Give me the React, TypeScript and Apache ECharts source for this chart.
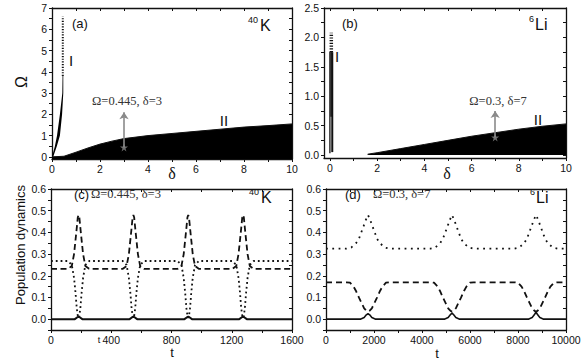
import React, { useEffect, useRef } from "react";
import * as echarts from "echarts";

// ---------- Panel (a): 40K phase diagram ----------
const aIIDelta = [0, 0.5, 1, 1.5, 2, 2.5, 3, 4, 5, 6, 7, 8, 9, 10];
const aIIOmega = [0, 0.03, 0.22, 0.42, 0.6, 0.74, 0.86, 1.0, 1.1, 1.2, 1.3, 1.4, 1.47, 1.55];
const aIBandDelta = [0.0, 0.12, 0.21, 0.33, 0.43, 0.44, 0.47, 0.47, 0.42, 0.33, 0.2, 0.05];
const aIBandOmega = [0, 0.5, 1, 2, 3, 3.8, 3.8, 3, 2, 1, 0.5, 0];
const aIDotDelta = [0.45, 0.45];
const aIDotOmega = [3.8, 6.6];
const aMark = [3, 0.445];
const aArrowTop = 2.1;

// ---------- Panel (b): 6Li phase diagram ----------
const bIIDelta = [1.6, 2, 3, 4, 5, 6, 7, 8, 9, 10];
const bIIOmega = [0.015, 0.04, 0.11, 0.18, 0.25, 0.32, 0.38, 0.44, 0.49, 0.53];
const bIThinDelta = 0.0;
const bIThinOmega = [0.03, 1.75];
const bIThickDelta = 0.1;
const bIThickOmega = [0.05, 1.75];
const bIMidDelta = 0.05;
const bIMidOmega = [0.65, 1.75];
const bIDotDelta = 0.06;
const bIDotOmega = [1.75, 2.08];
const bMark = [7, 0.3];
const bArrowTop = 0.75;

// ---------- Panel (c): 40K population dynamics ----------
const cDashed: number[][] = [
  [0, 0.232], [113, 0.232], [138, 0.245], [153, 0.3], [168, 0.4], [178, 0.47], [183, 0.48], [188, 0.47], [198, 0.4], [213, 0.3], [228, 0.245], [253, 0.232],
  [477, 0.232], [502, 0.245], [517, 0.3], [532, 0.4], [542, 0.47], [547, 0.48], [552, 0.47], [562, 0.4], [577, 0.3], [592, 0.245], [617, 0.232],
  [841, 0.232], [866, 0.245], [881, 0.3], [896, 0.4], [906, 0.47], [911, 0.48], [916, 0.47], [926, 0.4], [941, 0.3], [956, 0.245], [981, 0.232],
  [1205, 0.232], [1230, 0.245], [1245, 0.3], [1260, 0.4], [1270, 0.47], [1275, 0.48], [1280, 0.47], [1290, 0.4], [1305, 0.3], [1320, 0.245], [1345, 0.232],
  [1600, 0.232],
];
const cDotted: number[][] = [
  [0, 0.268], [113, 0.268], [138, 0.25], [153, 0.19], [163, 0.12], [171, 0.05], [178, 0.015], [183, 0.005], [188, 0.015], [195, 0.05], [203, 0.12], [213, 0.19], [228, 0.25], [253, 0.268],
  [477, 0.268], [502, 0.25], [517, 0.19], [527, 0.12], [535, 0.05], [542, 0.015], [547, 0.005], [552, 0.015], [559, 0.05], [567, 0.12], [577, 0.19], [592, 0.25], [617, 0.268],
  [841, 0.268], [866, 0.25], [881, 0.19], [891, 0.12], [899, 0.05], [906, 0.015], [911, 0.005], [916, 0.015], [923, 0.05], [931, 0.12], [941, 0.19], [956, 0.25], [981, 0.268],
  [1205, 0.268], [1230, 0.25], [1245, 0.19], [1255, 0.12], [1263, 0.05], [1270, 0.015], [1275, 0.005], [1280, 0.015], [1287, 0.05], [1295, 0.12], [1305, 0.19], [1320, 0.25], [1345, 0.268],
  [1600, 0.268],
];
const cSolid: number[][] = [
  [0, 0], [158, 0], [173, 0.008], [183, 0.011], [193, 0.008], [208, 0],
  [522, 0], [537, 0.008], [547, 0.011], [557, 0.008], [572, 0],
  [886, 0], [901, 0.008], [911, 0.011], [921, 0.008], [936, 0],
  [1250, 0], [1265, 0.008], [1275, 0.011], [1285, 0.008], [1300, 0],
  [1600, 0],
];

// ---------- Panel (d): 6Li population dynamics ----------
const dDotted: number[][] = [
  [0, 0.325],
  [850, 0.325], [1050, 0.33], [1250, 0.35], [1370, 0.37], [1470, 0.4], [1570, 0.43], [1650, 0.455], [1710, 0.47], [1750, 0.48], [1790, 0.47], [1850, 0.455], [1930, 0.43], [2030, 0.4], [2130, 0.37], [2250, 0.35], [2450, 0.33], [2650, 0.325],
  [4350, 0.325], [4550, 0.33], [4750, 0.35], [4870, 0.37], [4970, 0.4], [5070, 0.43], [5150, 0.455], [5210, 0.47], [5250, 0.48], [5290, 0.47], [5350, 0.455], [5430, 0.43], [5530, 0.4], [5630, 0.37], [5750, 0.35], [5950, 0.33], [6150, 0.325],
  [7850, 0.325], [8050, 0.33], [8250, 0.35], [8370, 0.37], [8470, 0.4], [8570, 0.43], [8650, 0.455], [8710, 0.47], [8750, 0.48], [8790, 0.47], [8850, 0.455], [8930, 0.43], [9030, 0.4], [9130, 0.37], [9250, 0.35], [9450, 0.33], [9650, 0.325],
  [10000, 0.325],
];
const dDashed: number[][] = [
  [0, 0.17],
  [850, 0.17], [1000, 0.168], [1150, 0.15], [1250, 0.13], [1370, 0.1], [1480, 0.075], [1590, 0.05], [1690, 0.038], [1750, 0.035], [1810, 0.038], [1910, 0.05], [2020, 0.075], [2130, 0.1], [2250, 0.13], [2350, 0.15], [2500, 0.168], [2650, 0.17],
  [4350, 0.17], [4500, 0.168], [4650, 0.15], [4750, 0.13], [4870, 0.1], [4980, 0.075], [5090, 0.05], [5190, 0.038], [5250, 0.035], [5310, 0.038], [5410, 0.05], [5520, 0.075], [5630, 0.1], [5750, 0.13], [5850, 0.15], [6000, 0.168], [6150, 0.17],
  [7850, 0.17], [8000, 0.168], [8150, 0.15], [8250, 0.13], [8370, 0.1], [8480, 0.075], [8590, 0.05], [8690, 0.038], [8750, 0.035], [8810, 0.038], [8910, 0.05], [9020, 0.075], [9130, 0.1], [9250, 0.13], [9350, 0.15], [9500, 0.168], [9650, 0.17],
  [10000, 0.17],
];
const dSolid: number[][] = [
  [0, 0],
  [1430, 0], [1590, 0.008], [1680, 0.02], [1750, 0.025], [1820, 0.02], [1910, 0.008], [2070, 0],
  [4930, 0], [5090, 0.008], [5180, 0.02], [5250, 0.028], [5320, 0.02], [5410, 0.008], [5570, 0],
  [8430, 0], [8590, 0.008], [8680, 0.02], [8750, 0.033], [8820, 0.02], [8910, 0.008], [9070, 0],
  [10000, 0],
];

// ---------- Tick labels / tick positions ----------
const aXLabels = [0, 2, 4, 6, 8, 10];
const aXTicks = [0, 1, 2, 3, 4, 5, 6, 7, 8, 9, 10];
const aYLabels = [0, 1, 2, 3, 4, 5, 6, 7];
const aYTicks = [0, 0.5, 1, 1.5, 2, 2.5, 3, 3.5, 4, 4.5, 5, 5.5, 6, 6.5, 7];
const bXLabels = [0, 2, 4, 6, 8, 10];
const bXTicks = [0, 1, 2, 3, 4, 5, 6, 7, 8, 9, 10];
const bYLabels = [0, 0.5, 1, 1.5, 2, 2.5];
const bYTicks = [0, 0.25, 0.5, 0.75, 1, 1.25, 1.5, 1.75, 2, 2.25, 2.5];
const cXLabels = [0, 400, 800, 1200, 1600];
const cXTicks = [0, 200, 400, 600, 800, 1000, 1200, 1400, 1600];
const pYLabels = [0, 0.1, 0.2, 0.3, 0.4, 0.5, 0.6];
const pYTicks = [-0.05, 0, 0.05, 0.1, 0.15, 0.2, 0.25, 0.3, 0.35, 0.4, 0.45, 0.5, 0.55, 0.6];
const dXLabels = [0, 2000, 4000, 6000, 8000, 10000];
const dXTicks = [0, 1000, 2000, 3000, 4000, 5000, 6000, 7000, 8000, 9000, 10000];

const SANS = "Liberation Sans, Arial, sans-serif";
const SERIF = "Liberation Serif, Times New Roman, serif";
const INK = "#111";
const GRAY = "#8a8a8a";
const STAR = "path://M50,0 L61,35 L98,35 L68,57 L79,91 L50,70 L21,91 L32,57 L2,35 L39,35 Z";

function makeAxes(
  g: number,
  xmin: number, xmax: number, xLabels: number[], xTicks: number[], xFmt: (v: number) => string,
  ymin: number, ymax: number, yLabels: number[], yTicks: number[], yFmt: (v: number) => string
) {
  const line = { show: true, onZero: false, lineStyle: { color: INK, width: 1.3 } };
  const lab = { fontSize: 10.5, color: INK, fontFamily: SANS };
  const xs = [
    {
      type: "value", gridIndex: g, min: xmin, max: xmax, position: "bottom",
      axisLine: line,
      axisTick: { show: true, inside: false, length: 3, customValues: xTicks, lineStyle: { color: INK, width: 1 } },
      axisLabel: { ...lab, margin: 4, customValues: xLabels, formatter: (v: number) => xFmt(v) },
      splitLine: { show: false },
    },
    {
      type: "value", gridIndex: g, min: xmin, max: xmax, position: "top",
      axisLine: line,
      axisTick: { show: true, inside: true, length: 3, customValues: xTicks, lineStyle: { color: INK, width: 1 } },
      axisLabel: { show: false, customValues: xTicks },
      splitLine: { show: false },
    },
  ];
  const ys = [
    {
      type: "value", gridIndex: g, min: ymin, max: ymax, position: "left",
      axisLine: line,
      axisTick: { show: true, inside: false, length: 3, customValues: yTicks, lineStyle: { color: INK, width: 1 } },
      axisLabel: { ...lab, margin: 5, customValues: yLabels, formatter: (v: number) => yFmt(v) },
      splitLine: { show: false },
    },
    {
      type: "value", gridIndex: g, min: ymin, max: ymax, position: "right",
      axisLine: line,
      axisTick: { show: true, inside: true, length: 3, customValues: yTicks, lineStyle: { color: INK, width: 1 } },
      axisLabel: { show: false, customValues: yTicks },
      splitLine: { show: false },
    },
  ];
  return { xs, ys };
}

const zip = (a: number[], b: number[]) => a.map((v, i) => [v, b[i]]);
const vline = (x: number, ys: number[]) => ys.map((y) => [x, y]);

function lineSeries(g: number, data: number[][], style: any, extra: any = {}) {
  return {
    type: "line", xAxisIndex: 2 * g, yAxisIndex: 2 * g, data,
    showSymbol: false, symbol: "none", silent: true, smooth: false,
    lineStyle: { color: INK, width: 1.8, ...style },
    ...extra,
  };
}

function arrowSeries(g: number, mark: number[], top: number) {
  return [
    {
      type: "lines", coordinateSystem: "cartesian2d", xAxisIndex: 2 * g, yAxisIndex: 2 * g,
      data: [{ coords: [[mark[0], mark[1]], [mark[0], top]] }],
      symbol: ["none", "arrow"], symbolSize: 7, silent: true, z: 10, zlevel: 0,
      lineStyle: { color: GRAY, width: 1.6, opacity: 1 },
    },
    {
      type: "scatter", xAxisIndex: 2 * g, yAxisIndex: 2 * g, data: [mark],
      symbol: STAR, symbolSize: 8, silent: true, z: 11,
      itemStyle: { color: GRAY },
    },
  ];
}

function txt(x: number, y: number, text: string, size: number, opts: any = {}) {
  const { font = SANS, align = "left", rotation = 0, fill = INK } = opts;
  return {
    type: "text", x, y, rotation, silent: true,
    style: { text, fontSize: size, fontFamily: font, fill, align, verticalAlign: "middle" },
  };
}

export default function App() {
  const ref = useRef<HTMLDivElement>(null);
  useEffect(() => {
    if (!ref.current) return;
    const chart = echarts.init(ref.current, undefined, { renderer: "svg" });
    const f0 = (v: number) => String(v);
    const f1 = (v: number) => v.toFixed(1);
    const A = makeAxes(0, 0, 10, aXLabels, aXTicks, f0, -0.1, 7, aYLabels, aYTicks, f0);
    const B = makeAxes(1, -0.25, 10, bXLabels, bXTicks, f0, -0.05, 2.5, bYLabels, bYTicks, f1);
    const C = makeAxes(2, 0, 1600, cXLabels, cXTicks, f0, -0.05, 0.6, pYLabels, pYTicks, f1);
    const D = makeAxes(3, 0, 10000, dXLabels, dXTicks, f0, -0.05, 0.6, pYLabels, pYTicks, f1);

    const option: any = {
      animation: false,
      backgroundColor: "#fff",
      grid: [
        { left: 52, top: 8, width: 240, height: 151 },
        { left: 324, top: 8, width: 242, height: 150 },
        { left: 51, top: 189, width: 241, height: 141 },
        { left: 326, top: 189, width: 240, height: 141 },
      ],
      xAxis: [...A.xs, ...B.xs, ...C.xs, ...D.xs],
      yAxis: [...A.ys, ...B.ys, ...C.ys, ...D.ys],
      series: [
        // (a) region II
        lineSeries(0, zip(aIIDelta, aIIOmega), { width: 1 }, { z: 1, areaStyle: { color: "#000", opacity: 1, origin: "start" } }),
        // (a) region I band
        {
          type: "custom", xAxisIndex: 0, yAxisIndex: 0, data: [[0, 0]], silent: true, z: 1,
          renderItem: (_p: any, api: any) => ({
            type: "polygon",
            shape: { points: aIBandDelta.map((d, i) => api.coord([d, aIBandOmega[i]])) },
            style: { fill: "#000" },
          }),
        },
        lineSeries(0, zip(aIDotDelta, aIDotOmega), { width: 2, type: [1.2, 1.5] }),
        ...arrowSeries(0, aMark, aArrowTop),
        // (b) region II
        lineSeries(1, zip(bIIDelta, bIIOmega), { width: 1 }, { z: 1, areaStyle: { color: "#000", opacity: 1, origin: "auto" } }),
        // (b) region I
        lineSeries(1, vline(bIThinDelta, bIThinOmega), { width: 1.3 }),
        lineSeries(1, vline(bIThickDelta, bIThickOmega), { width: 2 }),
        lineSeries(1, vline(bIMidDelta, bIMidOmega), { width: 1.5 }),
        lineSeries(1, vline(bIDotDelta, bIDotOmega), { width: 3.5, type: [1.2, 1.5] }),
        ...arrowSeries(1, bMark, bArrowTop),
        // (c)
        lineSeries(2, cSolid, { width: 2 }),
        lineSeries(2, cDotted, { width: 1.8, type: [1.8, 3] }),
        lineSeries(2, cDashed, { width: 1.8, type: [6, 3.5] }),
        // (d)
        lineSeries(3, dSolid, { width: 1.6 }),
        lineSeries(3, dDotted, { width: 1.8, type: [1.8, 4.5] }),
        lineSeries(3, dDashed, { width: 1.8, type: [6, 4] }),
      ],
      graphic: [
        // (a)
        txt(72, 23, "(a)", 13),
        txt(248, 20, "40", 9),
        txt(260, 25, "K", 16),
        txt(71, 60, "I", 15, { align: "center" }),
        txt(224, 120, "II", 15, { align: "center" }),
        txt(127, 100.5, "Ω=0.445, δ=3", 12.5, { font: SERIF, align: "center", fill: "#333" }),
        txt(21, 82, "Ω", 16, { align: "center", rotation: Math.PI / 2 }),
        txt(172, 173, "δ", 16, { font: SERIF, align: "center" }),
        // (b)
        txt(342, 23, "(b)", 13),
        txt(529, 19, "6", 9),
        txt(535, 24, "Li", 16),
        txt(337, 56, "I", 15, { align: "center" }),
        txt(538, 119, "II", 15, { align: "center" }),
        txt(498, 100.5, "Ω=0.3, δ=7", 12.5, { font: SERIF, align: "center", fill: "#333" }),
        txt(447, 173, "δ", 16, { font: SERIF, align: "center" }),
        // (c)
        txt(74, 194, "(c)", 13),
        txt(91, 194, "Ω=0.445, δ=3", 12.5, { font: SERIF, fill: "#333" }),
        txt(249, 192, "40", 9),
        txt(261, 197, "K", 16),
        txt(172, 352, "t", 13, { align: "center" }),
        txt(99, 340, "t", 9, { align: "center" }),
        txt(20, 245, "Population dynamics", 13, { align: "center", rotation: Math.PI / 2 }),
        // (d)
        txt(345, 194, "(d)", 13),
        txt(373, 194, "Ω=0.3, δ=7", 12.5, { font: SERIF, fill: "#333" }),
        txt(530, 192, "6", 9),
        txt(536, 197, "Li", 16),
        txt(437, 353, "t", 13, { align: "center" }),
      ],
    };
    chart.setOption(option);
    return () => chart.dispose();
  }, []);
  return (
    <div
      ref={ref}
      style={{ position: "fixed", left: 0, top: 0, width: 588, height: 363, background: "#fff" }}
    />
  );
}
